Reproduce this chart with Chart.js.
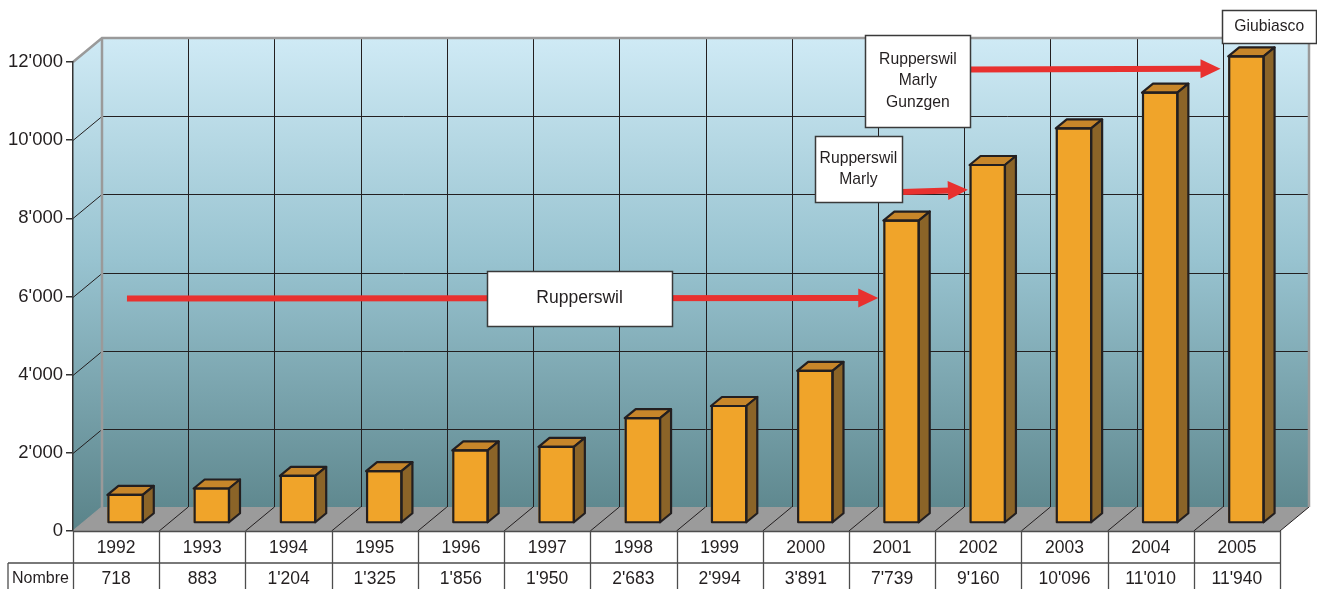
<!DOCTYPE html>
<html><head><meta charset="utf-8">
<style>html,body{margin:0;padding:0;background:#fff}canvas{display:block}</style>
<script src="https://cdn.jsdelivr.net/npm/chart.js@4/dist/chart.umd.min.js"></script>
</head><body>
<canvas id="c" width="1317" height="589"></canvas>
<script>
const years = ['1992','1993','1994','1995','1996','1997','1998','1999','2000','2001','2002','2003','2004','2005'];
const counts = [718, 883, 1204, 1325, 1856, 1950, 2683, 2994, 3891, 7739, 9160, 10096, 11010, 11940];
const rowLabel = 'Nombre';
const noteLabels = [['Rupperswil'], ['Rupperswil','Marly'], ['Rupperswil','Marly','Gunzgen'], ['Giubiasco']];

const FONT = '"Liberation Sans", Arial, sans-serif';
const DX = 29, DY = 24;      // wall depth
const TX = 9, TY = -8;       // bar front offset into the floor
const BDX = 11, BDY = 9;     // bar depth
function fmt(n){ return String(n).replace(/\B(?=(\d{3})+(?!\d))/g, "'"); }

// annotation placement (category index, value)
const notes = [
  {lines: noteLabels[0], cx: 5.376, cy: 5950, w: 185, h: 55, fs: 17.5},
  {lines: noteLabels[1], cx: 8.61, cy: 9262, w: 87, h: 66, fs: 15.7},
  {lines: noteLabels[2], cx: 9.30, cy: 11513, w: 105, h: 92, fs: 15.7},
  {lines: noteLabels[3], cx: 13.375, cy: 12908, w: 94, h: 33, fs: 15.7}
];
const arrows = [
  {x1: 0.126, v1: 5950, x2: 8.84, v2: 5960},
  {x1: 9.117, v1: 8673, x2: 9.88, v2: 8730},
  {x1: 9.906, v1: 11808, x2: 12.81, v2: 11830}
];

const scene = {
  id: 'scene',
  beforeDraw(chart){
    const ctx = chart.ctx, a = chart.chartArea, xs = chart.scales.x, ys = chart.scales.y;
    const L = a.left, R = a.right, T = a.top, B = a.bottom;
    ctx.save();
    const g = ctx.createLinearGradient(0, T - DY, 0, B);
    g.addColorStop(0, '#cfeaf5');
    g.addColorStop(0.45, '#98c3d0');
    g.addColorStop(1, '#5a8389');
    ctx.fillStyle = g;
    ctx.fillRect(L + DX, T - DY, R - L, B - T);
    ctx.beginPath(); ctx.moveTo(L, T); ctx.lineTo(L + DX, T - DY); ctx.lineTo(L + DX, B - DY); ctx.lineTo(L, B); ctx.closePath(); ctx.fill();
    // floor
    ctx.fillStyle = '#9b9b9b';
    ctx.beginPath(); ctx.moveTo(L, B); ctx.lineTo(R, B); ctx.lineTo(R + DX, B - DY); ctx.lineTo(L + DX, B - DY); ctx.closePath(); ctx.fill();
    // grid
    ctx.strokeStyle = '#231f20'; ctx.lineWidth = 1;
    ys.ticks.forEach(t => {
      if (t.value <= 0 || t.value >= ys.max) return;
      const y = Math.round(ys.getPixelForValue(t.value)) + 0.5;
      ctx.beginPath(); ctx.moveTo(L, y); ctx.lineTo(L + DX, y - DY); ctx.lineTo(R + DX, y - DY); ctx.stroke();
    });
    for (let i = 1; i < years.length; i++) {
      const x = Math.round(xs.getPixelForValue(i - 0.5)) + 0.5;
      ctx.beginPath(); ctx.moveTo(x + DX, T - DY); ctx.lineTo(x + DX, B - DY); ctx.stroke();
    }
    for (let i = 1; i <= years.length; i++) {
      const x = xs.getPixelForValue(i - 0.5);
      ctx.beginPath(); ctx.moveTo(x, B); ctx.lineTo(x + DX, B - DY); ctx.stroke();
    }
    // wall edges
    ctx.strokeStyle = '#9a9a9a'; ctx.lineWidth = 2.5;
    ctx.beginPath(); ctx.moveTo(L + DX, B - DY); ctx.lineTo(L + DX, T - DY); ctx.stroke();
    ctx.beginPath(); ctx.moveTo(L, T); ctx.lineTo(L + DX, T - DY); ctx.lineTo(R + DX, T - DY); ctx.lineTo(R + DX, B - DY); ctx.stroke();
    ctx.lineWidth = 1.5;
    ctx.beginPath(); ctx.moveTo(L, B); ctx.lineTo(L + DX, B - DY); ctx.stroke();
    ctx.restore();
  },
  beforeDatasetsDraw(chart){ chart.ctx.save(); chart.ctx.translate(TX, TY); },
  afterDatasetsDraw(chart){
    const ctx = chart.ctx;
    const meta = chart.getDatasetMeta(0);
    ctx.lineWidth = 2.2; ctx.strokeStyle = '#231f20'; ctx.lineJoin = 'round';
    meta.data.forEach(el => {
      const p = el.getProps(['x','y','base','width'], true);
      const l = p.x - p.width / 2, r = p.x + p.width / 2, t = p.y, b = p.base;
      ctx.fillStyle = '#c7862a';
      ctx.beginPath(); ctx.moveTo(l, t); ctx.lineTo(r, t); ctx.lineTo(r + BDX, t - BDY); ctx.lineTo(l + BDX, t - BDY); ctx.closePath(); ctx.fill(); ctx.stroke();
      ctx.fillStyle = '#8b6428';
      ctx.beginPath(); ctx.moveTo(r, t); ctx.lineTo(r + BDX, t - BDY); ctx.lineTo(r + BDX, b - BDY); ctx.lineTo(r, b); ctx.closePath(); ctx.fill(); ctx.stroke();
      ctx.strokeRect(l + 1, t, r - l - 1, b - t);
    });
    ctx.restore();
  },
  afterDraw(chart){
    const ctx = chart.ctx, a = chart.chartArea, xs = chart.scales.x, ys = chart.scales.y;
    const L = a.left, R = a.right, B = a.bottom;
    ctx.save();
    // data table
    const rowH = 32, H = chart.height;
    ctx.strokeStyle = '#4d4d4d'; ctx.lineWidth = 1.3;
    ctx.beginPath(); ctx.moveTo(L, B + 0.5); ctx.lineTo(R, B + 0.5); ctx.stroke();
    ctx.beginPath(); ctx.moveTo(8, B + rowH); ctx.lineTo(R, B + rowH); ctx.stroke();
    ctx.beginPath(); ctx.moveTo(8, B + rowH); ctx.lineTo(8, H); ctx.stroke();
    for (let i = 0; i <= years.length; i++) {
      const x = Math.round(xs.getPixelForValue(i - 0.5)) + 0.5;
      ctx.beginPath(); ctx.moveTo(x, B); ctx.lineTo(x, H); ctx.stroke();
    }
    ctx.fillStyle = '#231f20'; ctx.textAlign = 'center'; ctx.textBaseline = 'middle';
    ctx.font = '17.5px ' + FONT;
    years.forEach((y, i) => {
      const x = xs.getPixelForValue(i);
      ctx.fillText(y, x, B + 17);
      ctx.fillText(fmt(counts[i]), x, B + rowH + 16);
    });
    ctx.font = '16px ' + FONT;
    ctx.fillText(rowLabel, (8 + L) / 2, B + rowH + 16);
    // arrows
    ctx.fillStyle = '#e8312f'; ctx.strokeStyle = '#e8312f';
    arrows.forEach(ar => {
      const x1 = xs.getPixelForValue(ar.x1), y1 = ys.getPixelForValue(ar.v1);
      const x2 = xs.getPixelForValue(ar.x2), y2 = ys.getPixelForValue(ar.v2);
      const ang = Math.atan2(y2 - y1, x2 - x1);
      const hl = 20, hw = 9.5;
      const bx = x2 - hl * Math.cos(ang), by = y2 - hl * Math.sin(ang);
      ctx.lineWidth = 6; ctx.lineCap = 'butt';
      ctx.beginPath(); ctx.moveTo(x1, y1); ctx.lineTo(bx + 2 * Math.cos(ang), by + 2 * Math.sin(ang)); ctx.stroke();
      ctx.beginPath();
      ctx.moveTo(x2, y2);
      ctx.lineTo(bx - hw * Math.sin(ang), by + hw * Math.cos(ang));
      ctx.lineTo(bx + hw * Math.sin(ang), by - hw * Math.cos(ang));
      ctx.closePath(); ctx.fill();
    });
    // note boxes
    notes.forEach(n => {
      const cx = xs.getPixelForValue(n.cx), cy = ys.getPixelForValue(n.cy);
      const x = Math.round(cx - n.w / 2) + 0.5, y = Math.round(cy - n.h / 2) + 0.5;
      ctx.fillStyle = '#ffffff'; ctx.fillRect(x, y, n.w, n.h);
      ctx.strokeStyle = '#3a3a3a'; ctx.lineWidth = 1.5; ctx.strokeRect(x, y, n.w, n.h);
      ctx.fillStyle = '#231f20';
      ctx.font = n.fs + 'px ' + FONT;
      const lh = 21.5;
      n.lines.forEach((s, k) => ctx.fillText(s, cx, cy + (k - (n.lines.length - 1) / 2) * lh));
    });
    ctx.restore();
  }
};

new Chart(document.getElementById('c'), {
  type: 'bar',
  data: {
    labels: years,
    datasets: [{
      data: counts,
      backgroundColor: '#f0a42a',
      borderColor: '#231f20',
      borderWidth: 0,
      barPercentage: 0.41,
      categoryPercentage: 1,
      clip: false
    }]
  },
  options: {
    responsive: false,
    animation: false,
    devicePixelRatio: 1,
    layout: {padding: {left: 0, top: 62, right: 37, bottom: 58}},
    plugins: {legend: {display: false}, tooltip: {enabled: false}},
    scales: {
      x: {display: false, offset: true},
      y: {
        min: 0, max: 12000,
        afterFit(s){ s.width = 73; },
        ticks: {stepSize: 2000, callback: v => fmt(v), color: '#231f20', padding: 3, font: {family: FONT, size: 18.5}},
        grid: {drawOnChartArea: false, drawTicks: true, tickLength: 7, color: '#333', lineWidth: 1.5},
        border: {display: true, color: '#333', width: 1.5}
      }
    }
  },
  plugins: [scene]
});
</script>
</body></html>
